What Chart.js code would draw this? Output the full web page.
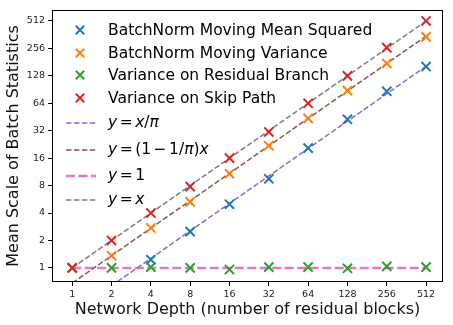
<!DOCTYPE html>
<html>
<head>
<meta charset="utf-8">
<script src="https://cdn.jsdelivr.net/npm/chart.js@4.4.0/dist/chart.umd.min.js"></script>
<style>
  html, body { margin: 0; padding: 0; background: #fff; }
  #wrap { width: 453px; height: 325px; }
</style>
</head>
<body>
<div id="wrap"><canvas id="myChart" width="453" height="325"></canvas></div>
<script>
// network depths (x) and axis ticks
const depths = [1, 2, 4, 8, 16, 32, 64, 128, 256, 512];
const xTicks = [1, 2, 4, 8, 16, 32, 64, 128, 256, 512];
const yTicks = [1, 2, 4, 8, 16, 32, 64, 128, 256, 512];

// measured statistics (null = below the visible range)
const meanSquared = [null, null, 1.23, 2.5, 5.0, 9.5, 20.6, 42.7, 86.6, 162];
const movingVariance = [null, 1.36, 2.74, 5.3, 10.8, 21.9, 43.7, 88, 175, 343];
const residualVariance = [1.0, 1.0, 1.02, 1.0, 0.96, 1.02, 1.02, 0.99, 1.04, 1.02];
const skipVariance = [1.0, 2.0, 4.0, 7.8, 16, 31, 64, 128, 261, 512];

// reference lines
const lineXOverPi = [0.318, 0.637, 1.27, 2.55, 5.09, 10.2, 20.4, 40.7, 81.5, 163];
const lineOneMinus = [0.682, 1.36, 2.73, 5.45, 10.9, 21.8, 43.6, 87.3, 175, 349];
const lineOne = [1, 1, 1, 1, 1, 1, 1, 1, 1, 1];
const lineX = [1, 2, 4, 8, 16, 32, 64, 128, 256, 512];

const markerLabels = ['BatchNorm Moving Mean Squared', 'BatchNorm Moving Variance',
                      'Variance on Residual Branch', 'Variance on Skip Path'];
const markerColors = ['#1f77b4', '#ff7f0e', '#2ca02c', '#d62728'];
const lineColors = ['#9467bd', '#8c564b', '#e377c2', '#7f7f7f'];

const FONT = '"DejaVu Sans", Verdana, sans-serif';
const LEGEND_SIZE = 15.5;

function toPoints(arr) {
    return depths.map((d, i) => ({ x: d, y: arr[i] }));
}

function markerSet(label, arr, color, order) {
    return {
        label: label,
        data: toPoints(arr),
        showLine: false,
        pointStyle: 'crossRot',
        pointRadius: 6.5,
        pointHoverRadius: 6.5,
        pointBorderWidth: 2,
        borderColor: color,
        backgroundColor: color,
        clip: 0,
        order: order
    };
}

function lineSet(label, arr, color, width, dash, order) {
    return {
        label: label,
        data: toPoints(arr),
        showLine: true,
        pointRadius: 0,
        borderColor: color,
        borderWidth: width,
        borderDash: dash,
        fill: false,
        clip: 0,
        order: order
    };
}

// legend drawn inside the plot, top left, no frame
const insideLegend = {
    id: 'insideLegend',
    afterDraw(chart) {
        const ctx = chart.ctx;
        ctx.save();
        ctx.textBaseline = 'middle';
        ctx.fillStyle = '#000';
        const markerRows = [30, 53, 75, 98];
        markerRows.forEach((y, i) => {
            drawCross(ctx, 80, y, 4.2, markerColors[i]);
            ctx.fillStyle = '#000';
            ctx.font = LEGEND_SIZE + 'px ' + FONT;
            ctx.fillText(markerLabels[i], 108, y + 1);
        });
        // mathtext style rows: [text, italic, gap after]
        const mathRows = [
            { y: 123, w: 1.5, dash: [5.5, 2.4], parts: [['y', 1, 2.5], ['=', 0, 2.5], ['x', 1, 0], ['/', 0, 0], ['π', 1, 0]] },
            { y: 150, w: 1.5, dash: [5.5, 2.4], parts: [['y', 1, 2.5], ['=', 0, 2.5], ['(1', 0, 2.5], ['−', 0, 2.5], ['1/', 0, 0], ['π', 1, 0], [')', 0, 0], ['x', 1, 0]] },
            { y: 176, w: 2.5, dash: [9, 3.5], parts: [['y', 1, 2.5], ['=', 0, 2.5], ['1', 0, 0]] },
            { y: 200, w: 1.5, dash: [5.5, 2.4], parts: [['y', 1, 2.5], ['=', 0, 2.5], ['x', 1, 0]] }
        ];
        mathRows.forEach((row, i) => {
            ctx.strokeStyle = lineColors[i];
            ctx.lineWidth = row.w;
            ctx.setLineDash(row.dash);
            ctx.beginPath();
            ctx.moveTo(66, row.y);
            ctx.lineTo(96, row.y);
            ctx.stroke();
            ctx.setLineDash([]);
            let x = 108;
            ctx.fillStyle = '#000';
            row.parts.forEach(p => {
                ctx.font = (p[1] ? 'italic ' : '') + LEGEND_SIZE + 'px ' + FONT;
                ctx.fillText(p[0], x, row.y);
                x += ctx.measureText(p[0]).width + p[2];
            });
        });
        ctx.restore();
    }
};

function drawCross(ctx, x, y, h, color) {
    ctx.save();
    ctx.strokeStyle = color;
    ctx.lineWidth = 2;
    ctx.beginPath();
    ctx.moveTo(x - h, y - h);
    ctx.lineTo(x + h, y + h);
    ctx.moveTo(x - h, y + h);
    ctx.lineTo(x + h, y - h);
    ctx.stroke();
    ctx.restore();
}

// full box around the axes
const axesBox = {
    id: 'axesBox',
    afterDatasetsDraw(chart) {
        const a = chart.chartArea;
        const ctx = chart.ctx;
        ctx.save();
        ctx.strokeStyle = '#000';
        ctx.lineWidth = 1;
        ctx.strokeRect(Math.round(a.left) + 0.5, Math.round(a.top) + 0.5,
                       Math.round(a.right - a.left) - 1, Math.round(a.bottom - a.top) - 1);
        ctx.restore();
    }
};

const ctx = document.getElementById('myChart').getContext('2d');
const myChart = new Chart(ctx, {
    type: 'scatter',
    data: {
        datasets: [
            markerSet(markerLabels[0], meanSquared, markerColors[0], 3),
            markerSet(markerLabels[1], movingVariance, markerColors[1], 2),
            markerSet(markerLabels[2], residualVariance, markerColors[2], 1),
            markerSet(markerLabels[3], skipVariance, markerColors[3], 0),
            lineSet('y = x/π', lineXOverPi, lineColors[0], 1.5, [5.5, 2.4], 4),
            lineSet('y = (1 − 1/π)x', lineOneMinus, lineColors[1], 1.5, [5.5, 2.4], 5),
            lineSet('y = 1', lineOne, lineColors[2], 2.5, [9, 3.5], 6),
            lineSet('y = x', lineX, lineColors[3], 1.5, [5.5, 2.4], 7)
        ]
    },
    options: {
        responsive: false,
        animation: false,
        devicePixelRatio: 1,
        layout: { padding: { top: 10, right: 10, left: 0, bottom: 0 } },
        plugins: {
            legend: { display: false },
            tooltip: { enabled: false }
        },
        scales: {
            x: {
                type: 'logarithmic',
                min: Math.pow(2, -0.43),
                max: Math.pow(2, 9.43),
                afterBuildTicks: axis => { axis.ticks = xTicks.map(v => ({ value: v })); },
                afterFit: axis => { axis.height = 43; },
                ticks: {
                    autoSkip: false,
                    maxRotation: 0,
                    padding: 3,
                    color: '#222',
                    font: { family: FONT, size: 9.5 },
                    callback: v => String(v)
                },
                grid: { drawOnChartArea: false, drawTicks: true, tickLength: 4, color: '#000' },
                border: { display: false },
                title: {
                    display: true,
                    text: 'Network Depth (number of residual blocks)',
                    color: '#111',
                    font: { family: FONT, size: 16 },
                    padding: { top: 0, bottom: 6 }
                }
            },
            y: {
                type: 'logarithmic',
                min: Math.pow(2, -0.434),
                max: Math.pow(2, 9.40),
                afterBuildTicks: axis => { axis.ticks = yTicks.map(v => ({ value: v })); },
                afterFit: axis => { axis.width = 52; },
                ticks: {
                    autoSkip: false,
                    padding: 3,
                    color: '#222',
                    font: { family: FONT, size: 9.5 },
                    callback: v => String(v)
                },
                grid: { drawOnChartArea: false, drawTicks: true, tickLength: 4, color: '#000' },
                border: { display: false },
                title: {
                    display: true,
                    text: 'Mean Scale of Batch Statistics',
                    color: '#111',
                    font: { family: FONT, size: 16 },
                    padding: { top: 4, bottom: 0 }
                }
            }
        }
    },
    plugins: [axesBox, insideLegend]
});
</script>
</body>
</html>
